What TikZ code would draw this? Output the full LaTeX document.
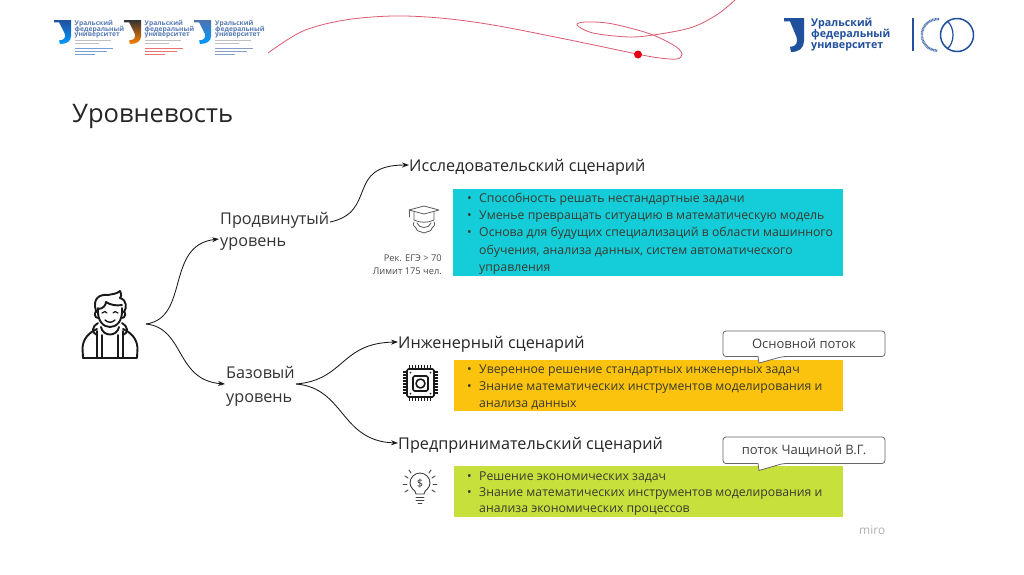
\documentclass[tikz,border=0pt]{standalone}
\usepackage{fontspec}
\setmainfont{Open Sans}
\usetikzlibrary{arrows.meta}
\definecolor{cyanbox}{HTML}{14CDD8}
\definecolor{orangebox}{HTML}{FBC20E}
\definecolor{greenbox}{HTML}{C8E03B}
\definecolor{urfu}{HTML}{21509C}
\definecolor{redline}{HTML}{DC5A70}
\definecolor{reddot}{HTML}{E30613}
\definecolor{bodytext}{HTML}{3A3A30}
\definecolor{icongrey}{HTML}{5A5A5A}
\newcommand{\fsz}[1]{\fontsize{#1}{#1}\selectfont}
\tikzset{
  x=1pt,y=-1pt,
  levellabel/.style={anchor=west,inner sep=0pt,text height=14pt,text depth=2pt,font=\fsz{16.2},text=black!80},
  scenario/.style={anchor=west,inner sep=0pt,text height=14pt,text depth=2pt,font=\fsz{16.2},text=black!85},
  listline/.style={anchor=west,inner sep=0pt,text height=10pt,text depth=2pt,font=\fsz{12.25},text=bodytext},
  bulletdot/.style={anchor=west,inner sep=0pt,text height=10pt,text depth=2pt,font=\fsz{12.25},text=bodytext},
  smallnote/.style={anchor=east,inner sep=0pt,font=\fsz{9.3},text height=8pt,text depth=2pt,text=black!70},
  calloutbox/.style={draw=black!60,fill=white,line width=.8pt,rounded corners=3pt,line join=round},
  callouttext/.style={anchor=center,inner sep=0pt,font=\fsz{13},text=black!75},
  conn/.style={line width=.85pt,draw=black!90},
  connarrow/.style={conn,-{Stealth[length=7pt,width=5pt]}},
  icon/.style={line width=1.9pt,draw=black!90,line cap=round,line join=round},
  thinicon/.style={line width=.8pt,draw=icongrey,line cap=round,line join=round},
  logotext/.style={anchor=west,inner sep=0pt,font=\fsz{6.7}\bfseries,text=urfu!75},
  bigtext/.style={anchor=west,inner sep=0pt,font=\fsz{10.7}\bfseries,text=urfu},
}
\newcommand{\jshape}[6]{% x y w h top bottom
  \begin{scope}[shift={(#1,#2)},xscale=#3,yscale=#4]
    \shade[top color=#5,bottom color=#6,draw=none]
      (0,0) -- (1,0) -- (1,.68) .. controls (1,.88) and (.75,1) .. (.35,1)
      -- (.3,.85) .. controls (.6,.85) and (.72,.72) .. (.62,.55)
      -- (.3,.1) -- (0,.1) -- cycle;
  \end{scope}}
\newcommand{\smalllogo}[5]{% x text-x colorA colorB tiny colour
  \jshape{#1}{20}{17}{24}{#3}{#4}
  \node[logotext] at (#2,24) {Уральский};
  \node[logotext] at (#2,30) {федеральный};
  \node[logotext] at (#2,35.5) {университет};
  \fill[black!25] (#2,39.5) rectangle ++(36,1.2);
  \fill[black!25] (#2,42.5) rectangle ++(24,1.2);
  \fill[#5!55] (#2,47.5) rectangle ++(38,1.2);
  \fill[#5!55] (#2,50.5) rectangle ++(32,1.2);
  \fill[#5!55] (#2,53.5) rectangle ++(20,1.2);
}
\begin{document}
\begin{tikzpicture}
\useasboundingbox (0,0) rectangle (1024,574);
\fill[white] (0,0) rectangle (1024,574);

% small logos
\smalllogo{54}{74.5}{urfu}{cyan!60!blue}{cyan!50!blue}
\smalllogo{124}{144.5}{black!80}{orange}{red!85!black}
\smalllogo{194}{215}{urfu!80}{cyan!60!blue}{urfu}

% red swoosh
\draw[redline,line width=.8pt,line join=round] plot[smooth,tension=.55] coordinates {
 (268,53) (303,31) (345,20) (393,16) (440,18) (493,25) (565,39) (637,54) (660,58) (677,59) (682,54)
 (675,46) (653,35) (630,28) (607,23) (585,22) (577,25) (593,33) (630,37) (660,34) (693,27) (718,14) (735,0)};
\fill[reddot] (638,54.5) circle (4);

% right logo
\jshape{784}{18}{20}{34}{urfu}{urfu}
\node[bigtext] at (811,23.5) {Уральский};
\node[bigtext] at (811,35) {федеральный};
\node[bigtext] at (811,46.5) {университет};
\draw[urfu,line width=1.2pt] (913,18) -- (913,51);
\draw[urfu,line width=1.5pt] (957,35) circle (16.5);
\draw[urfu,line width=1.2pt] (947,21) .. controls (955,27) and (955,43) .. (947,49);
\draw[urfu!80,line width=2.4pt,dash pattern=on .9pt off .6pt] (939,19.2) arc[start angle=275,end angle=90,radius=15.8];

% title
\node[anchor=west,inner sep=0pt,text height=20pt,text depth=2pt,font=\fsz{25.5},text=black!85] (title) at (72,113) {Уровневость};

% boxes
\fill[cyanbox] (453,189) rectangle (843,276);
\fill[orangebox] (454,360) rectangle (843,411);
\fill[greenbox] (454,466) rectangle (843,517);

% list texts
\node[bulletdot] at (467,198) {•};
\node[listline] at (479,198) {Способность решать нестандартные задачи};
\node[bulletdot] at (467,215) {•};
\node[listline] at (479,215) {Уменье превращать ситуацию в математическую модель};
\node[bulletdot] at (467,232) {•};
\node[listline] at (479,232) {Основа для будущих специализаций в области машинного};
\node[listline] at (479,250) {обучения, анализа данных, систем автоматического};
\node[listline] at (479,267) {управления};

\node[bulletdot] at (467,369) {•};
\node[listline] at (479,369) {Уверенное решение стандартных инженерных задач};
\node[bulletdot] at (467,386) {•};
\node[listline] at (479,386) {Знание математических инструментов моделирования и};
\node[listline] at (479,403) {анализа данных};

\node[bulletdot] at (467,476) {•};
\node[listline] at (479,476) {Решение экономических задач};
\node[bulletdot] at (467,492) {•};
\node[listline] at (479,492) {Знание математических инструментов моделирования и};
\node[listline] at (479,508) {анализа экономических процессов};

% labels
\node[levellabel] (adv) at (220,218) {Продвинутый};
\node[levellabel] (adv2) at (220,240) {уровень};
\node[levellabel] (base) at (226,372) {Базовый};
\node[levellabel] (base2) at (226,396) {уровень};
\node[scenario] (res) at (409,165) {Исследовательский сценарий};
\node[scenario] (eng) at (398,342) {Инженерный сценарий};
\node[scenario] (ent) at (398,443) {Предпринимательский сценарий};

\node[smallnote] (ege) at (442,258) {Рек. ЕГЭ > 70};
\node[smallnote] (lim) at (442,271) {Лимит 175 чел.};

% connectors
\coordinate (personout) at (146,324);
\coordinate (advin) at (219,239);
\coordinate (basein) at (225,384);
\coordinate (advout) at (330,222);
\coordinate (baseout) at (296,384);
\draw[connarrow] (personout) .. controls (190,318) and (165,245) .. (advin);
\draw[connarrow] (personout) .. controls (185,328) and (175,380) .. (basein);
\draw[connarrow] (advout) .. controls (378,212) and (345,165) .. (res.west);
\draw[connarrow] (baseout) .. controls (345,380) and (340,343) .. (eng.west);
\draw[connarrow] (baseout) .. controls (345,388) and (340,441) .. (ent.west);

% callouts
\draw[calloutbox] (723,331) -- (885,331) -- (885,356.5) -- (783,356.5)
  [sharp corners] -- (759,363) -- (758,356.5) [rounded corners=3pt] -- (723,356.5) -- cycle;
\node[callouttext] (c1) at (804,343.5) {Основной поток};
\draw[calloutbox] (723,437) -- (885,437) -- (885,463.5) -- (783,463.5)
  [sharp corners] -- (759,470.5) -- (758,463.5) [rounded corners=3pt] -- (723,463.5) -- cycle;
\node[callouttext] (c2) at (804,450.5) {поток Чащиной В.Г.};

\node[anchor=west,inner sep=0pt,font=\fsz{12},text=black!30] (miro) at (859,530) {miro};

% person icon
\begin{scope}[icon]
  % body
  \draw (83,358) -- (137,358) -- (137.5,348) .. controls (137,338) and (130,332) .. (123,329);
  \draw (83,358) -- (82.5,348) .. controls (83,338) and (90,332) .. (97,329);
  % collar / hood
  \draw (97,335) .. controls (91,333) and (92,326) .. (98,323);
  \draw (123,335) .. controls (129,333) and (128,326) .. (122,323);
  \draw (101,327) .. controls (103,337) and (117,337) .. (119,327);
  % braces
  \draw (97,331) -- (97,358) (102,335) -- (102,358);
  \draw (118,335) -- (118,358) (123,331) -- (123,358);
  % head
  \draw (98,308) .. controls (97,322) and (104,327) .. (110,327) .. controls (116,327) and (123,322) .. (122,308);
  \draw (98,311) .. controls (93,311) and (94,319) .. (99,318);
  \draw (122,311) .. controls (127,311) and (126,319) .. (121,318);
  % hair
  \draw (96,311) .. controls (92,298) and (100,294) .. (108,295) .. controls (112,294) and (117,294) .. (120,291)
        .. controls (122,295) and (121,297) .. (120,298) .. controls (127,300) and (127,308) .. (124,312);
  \draw (98,309) .. controls (103,309) and (106,305) .. (106,302) .. controls (110,305) and (117,306) .. (122,305);
  % face
  \draw[line width=1.2pt] (102,313) .. controls (104,311) and (106,311) .. (107,313);
  \draw[line width=1.2pt] (113,313) .. controls (114,311) and (116,311) .. (118,313);
  \draw[line width=1.4pt] (105,320) .. controls (108,323) and (112,323) .. (115,320);
\end{scope}

% graduation cap icon
\begin{scope}[thinicon]
  \draw (409,210) -- (424,206) -- (439,210) -- (424,214) -- cycle;
  \draw (414,212) -- (414,220) .. controls (420,223) and (428,223) .. (434,220) -- (434,212);
  \draw (409,210) -- (409,217);
  \draw (414,222) .. controls (412,225) and (415,227) .. (416,228) .. controls (417,232) and (420,231) .. (424,233)
        .. controls (428,231) and (431,232) .. (432,228) .. controls (433,227) and (436,225) .. (434,222);
  \draw (417,223) .. controls (419,229) and (429,229) .. (431,223);
\end{scope}

% chip icon
\begin{scope}[icon,line width=1.6pt]
  \draw[rounded corners=1.5pt] (407,369) rectangle (434,397);
  \draw[rounded corners=1.5pt] (413,376) rectangle (428,391);
  \draw (420.5,383.5) circle (4.5);
  \fill[black!85] (410.5,372.5) circle (1) (430.5,372.5) circle (1) (410.5,393.5) circle (1) (430.5,393.5) circle (1);
  \foreach \k in {0,...,7}{
    \draw[line width=1.1pt,line cap=butt] (409.5+\k*3,365) -- ++(0,4);
    \draw[line width=1.1pt,line cap=butt] (409.5+\k*3,397) -- ++(0,4);
    \draw[line width=1.1pt,line cap=butt] (403,372+\k*3) -- ++(4,0);
    \draw[line width=1.1pt,line cap=butt] (434,372+\k*3) -- ++(4,0);
  }
\end{scope}

% bulb icon
\begin{scope}[thinicon,draw=black!75,line width=.9pt]
  \draw (416,494) .. controls (416,490) and (410,489) .. (410,483) arc[start angle=180,end angle=360,radius=10] .. controls (430,489) and (424,490) .. (424,494) -- cycle;
  \draw (416,497) -- (424,497) (416,500) -- (424,500) (418,503) -- (422,503);
  \draw (403,484) -- (407,484) (433,484) -- (437,484);
  \draw (405,476) -- (408,478) (435,476) -- (432,478);
  \draw (405,492) -- (408,490) (435,492) -- (432,490);
  \draw (409,470) -- (411,473) (431,470) -- (429,473);
\end{scope}
\node[anchor=center,inner sep=0pt,font=\fsz{11},text=black!80] (dollar) at (420,484) {\$};
\end{tikzpicture}
\end{document}
